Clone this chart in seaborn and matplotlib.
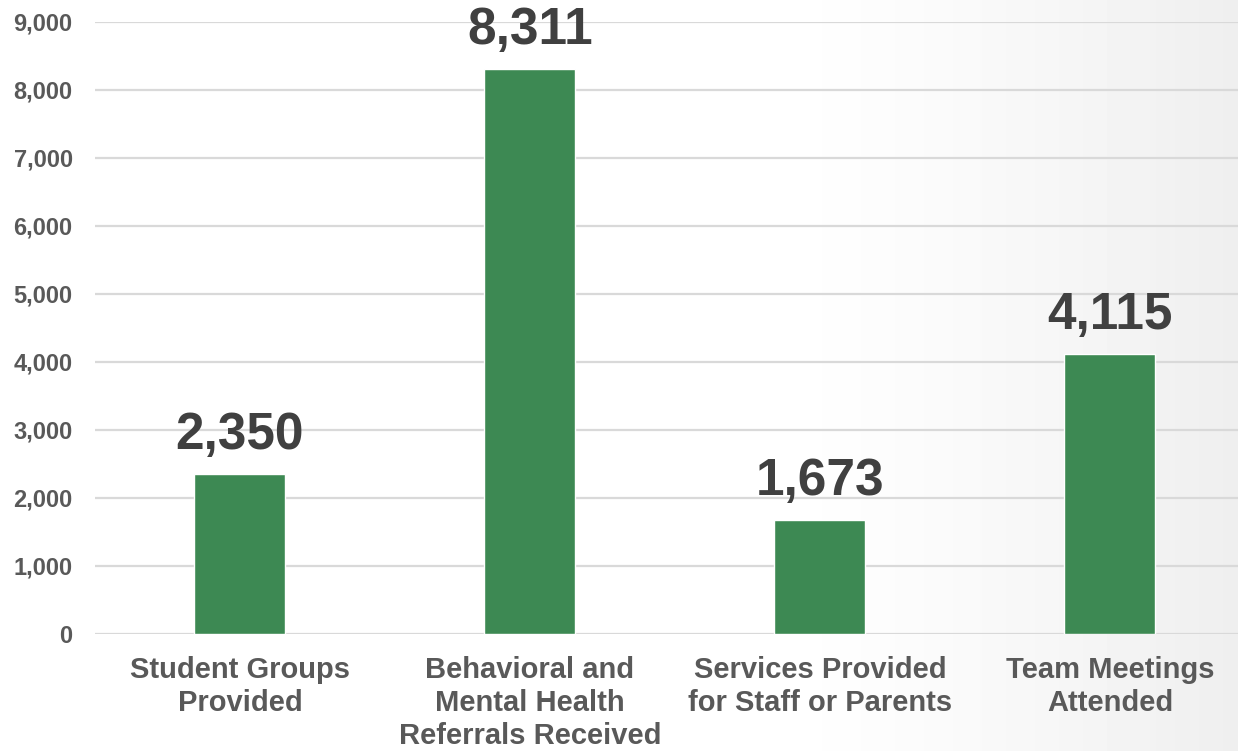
import numpy as np
import pandas as pd
import matplotlib
matplotlib.use('Agg')
import matplotlib.pyplot as plt
import seaborn as sns


categories = ['Student Groups\nProvided',
              'Behavioral and\nMental Health\nReferrals Received',
              'Services Provided\nfor Staff or Parents',
              'Team Meetings\nAttended']
values = [2350, 8311, 1673, 4115]
y_ticks = [0, 1000, 2000, 3000, 4000, 5000, 6000, 7000, 8000, 9000]

df = pd.DataFrame({'category': categories, 'value': values})

sns.set_theme(style='white')
plt.rcParams['font.family'] = ['Liberation Sans', 'DejaVu Sans']

fig = plt.figure(figsize=(12.38, 7.51), dpi=100)

# soft grey fade on the right side of the slide
bg = fig.add_axes([0, 0, 1, 1], zorder=0)
grad = np.ones((2, 256))
xs = np.linspace(0, 1, 256)
grad[:] = np.clip((xs - 0.62) / 0.38, 0, 1) ** 1.3 * 0.065
bg.imshow(1 - grad, cmap='gray', vmin=0, vmax=1, aspect='auto', extent=[0, 1, 0, 1])
bg.axis('off')

ax = fig.add_axes([0.0767, 0.1558, 0.937, 0.815], zorder=1)
ax.patch.set_alpha(0)

sns.barplot(data=df, x='category', y='value', color='#3D8953', width=0.314,
            saturation=1, ax=ax, zorder=3)

ax.set_ylim(0, 9000)
ax.set_yticks(y_ticks)
ax.set_yticklabels([f'{t:,}' for t in y_ticks])
ax.yaxis.grid(True, color='#D9D9D9', linewidth=1.6, zorder=0)
ax.set_axisbelow(True)
for s in ax.spines.values():
    s.set_visible(False)
ax.set_xlabel('')
ax.set_ylabel('')
ax.tick_params(axis='y', length=0, pad=16, labelsize=17, labelcolor='#595959')
ax.tick_params(axis='x', length=0, pad=16, labelsize=21, labelcolor='#595959')
for lbl in ax.get_yticklabels() + ax.get_xticklabels():
    lbl.set_fontweight('bold')
for lbl in ax.get_xticklabels():
    lbl.set_linespacing(1.22)

for i, v in enumerate(values):
    ax.annotate(f'{v:,}', (i, v), xytext=(0, 10), textcoords='offset points',
                ha='center', va='bottom', fontsize=37, fontweight='bold',
                color='#404040')

fig.savefig('out.png', dpi=100)
